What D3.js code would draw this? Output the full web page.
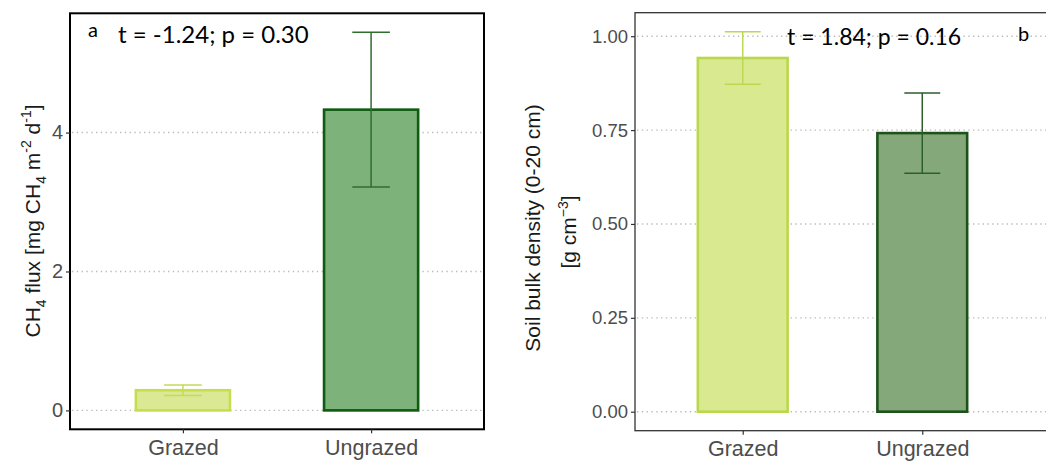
<!DOCTYPE html>
<html>
<head>
<meta charset="utf-8">
<script src="https://cdn.jsdelivr.net/npm/d3@7"></script>
<style>
  body { margin: 0; background: #fff; }
  svg { display: block; }
  .tick-label { font-family: "Liberation Sans", Arial, sans-serif; fill: #4d4d4d; }
  .axis-title { font-family: "Liberation Sans", Arial, sans-serif; fill: #1a1a1a; font-size: 21px; }
  .note { font-family: Lato, "Open Sans", sans-serif; fill: #000; }
</style>
</head>
<body>
<div id="chart"></div>
<script>
// data
var groups = ["Grazed", "Ungrazed"];
var ch4Mean = [0.29, 4.33];
var ch4Se = [0.075, 1.115];
var bdMean = [0.942, 0.742];
var bdSe = [0.07, 0.107];
var ch4Ticks = [0, 2, 4];
var bdTicks = [0, 0.25, 0.5, 0.75, 1.0];

var W = 1046, H = 463;

var svg = d3.select("#chart").append("svg")
    .attr("width", W)
    .attr("height", H);

// colours per panel
var panels = [
    {
        mean: ch4Mean, se: ch4Se, ticks: ch4Ticks, fmt: d3.format("d"),
        left: 70, right: 484, top: 13.3, bottom: 429.3, frameRight: 484,
        fill: ["#dbe995", "#7db27a"],
        stroke: ["#c6de4e", "#0f5c10"],
        err: ["#c4da5a", "#2f6e2f"],
        frameColor: "#000", frameWidth: 2, tickSize: 20
    },
    {
        mean: bdMean, se: bdSe, ticks: bdTicks, fmt: d3.format(".2f"),
        left: 635, right: 1030, top: 12.7, bottom: 430.7, frameRight: 1060,
        fill: ["#d8e98f", "#85a87b"],
        stroke: ["#bad84c", "#1c531a"],
        err: ["#bcd853", "#2c5e2a"],
        frameColor: "#333", frameWidth: 1.3, tickSize: 18.5
    }
];

panels.forEach(function(p) {
    var ymax = d3.max(p.mean.map(function(m, i) { return m + p.se[i]; }));
    var pad = 0.05 * ymax;

    p.y = d3.scaleLinear()
        .domain([-pad, ymax + pad])
        .range([p.bottom, p.top]);

    p.x = d3.scalePoint()
        .domain(groups)
        .range([p.left, p.right])
        .padding(0.6);

    var step = p.x.step();
    var g = svg.append("g");

    // dotted grid
    g.selectAll(".grid")
        .data(p.ticks)
        .enter().append("line")
        .attr("x1", p.left + 2)
        .attr("x2", p.frameRight)
        .attr("y1", function(d) { return p.y(d); })
        .attr("y2", function(d) { return p.y(d); })
        .attr("stroke", "#bdbdbd")
        .attr("stroke-width", 1.4)
        .attr("stroke-dasharray", "1.4,3.4");

    // bars
    g.selectAll(".bar")
        .data(groups)
        .enter().append("rect")
        .attr("x", function(d) { return p.x(d) - step * 0.25; })
        .attr("width", step * 0.5)
        .attr("y", function(d, i) { return p.y(p.mean[i]); })
        .attr("height", function(d, i) { return p.y(0) - p.y(p.mean[i]); })
        .attr("fill", function(d, i) { return p.fill[i]; })
        .attr("stroke", function(d, i) { return p.stroke[i]; })
        .attr("stroke-width", 2.6);

    // error bars
    groups.forEach(function(d, i) {
        var cx = p.x(d), hi = p.y(p.mean[i] + p.se[i]), lo = p.y(p.mean[i] - p.se[i]);
        var cw = step * 0.1;
        var e = g.append("g")
            .attr("stroke", p.err[i])
            .attr("stroke-width", 1.5);
        e.append("line").attr("x1", cx).attr("x2", cx).attr("y1", hi).attr("y2", lo);
        e.append("line").attr("x1", cx - cw).attr("x2", cx + cw).attr("y1", hi).attr("y2", hi);
        e.append("line").attr("x1", cx - cw).attr("x2", cx + cw).attr("y1", lo).attr("y2", lo);
    });

    // frame
    g.append("rect")
        .attr("x", p.left)
        .attr("y", p.top)
        .attr("width", p.frameRight - p.left)
        .attr("height", p.bottom - p.top)
        .attr("fill", "none")
        .attr("stroke", p.frameColor)
        .attr("stroke-width", p.frameWidth);

    // y axis
    var yAxis = g.append("g")
        .attr("transform", "translate(" + p.left + ",0)")
        .call(d3.axisLeft(p.y).tickValues(p.ticks).tickFormat(p.fmt).tickSize(4).tickPadding(3));
    yAxis.select(".domain").remove();
    yAxis.selectAll(".tick line").attr("stroke", "#333").attr("stroke-width", 1.2);
    yAxis.selectAll(".tick text")
        .attr("class", "tick-label")
        .attr("font-size", p.tickSize)
        .attr("fill", "#4d4d4d");

    // x axis
    var xAxis = g.append("g")
        .attr("transform", "translate(0," + p.bottom + ")")
        .call(d3.axisBottom(p.x).tickSize(4).tickPadding(6));
    xAxis.select(".domain").remove();
    xAxis.selectAll(".tick line").attr("stroke", "#333").attr("stroke-width", 1.2);
    xAxis.selectAll(".tick text")
        .attr("class", "tick-label")
        .attr("font-size", 21.5)
        .attr("fill", "#4d4d4d");
});

// y axis titles
var t1 = svg.append("text")
    .attr("class", "axis-title")
    .attr("transform", "translate(40,221) rotate(-90)")
    .attr("text-anchor", "middle");
t1.append("tspan").text("CH");
t1.append("tspan").attr("font-size", 14).attr("dy", 6).text("4");
t1.append("tspan").attr("dy", -6).text(" flux [mg CH");
t1.append("tspan").attr("font-size", 14).attr("dy", 6).text("4");
t1.append("tspan").attr("dy", -6).text(" m");
t1.append("tspan").attr("font-size", 14).attr("dy", -9).text("-2");
t1.append("tspan").attr("dy", 9).text(" d");
t1.append("tspan").attr("font-size", 14).attr("dy", -9).text("-1");
t1.append("tspan").attr("dy", 9).text("]");

svg.append("text")
    .attr("class", "axis-title")
    .attr("transform", "translate(540,228) rotate(-90)")
    .attr("text-anchor", "middle")
    .text("Soil bulk density (0-20 cm)");

var t2 = svg.append("text")
    .attr("class", "axis-title")
    .attr("transform", "translate(576,232) rotate(-90)")
    .attr("text-anchor", "middle");
t2.append("tspan").text("[g cm");
t2.append("tspan").attr("font-size", 14).attr("dy", -8).text("\u22123");
t2.append("tspan").attr("dy", 8).text("]");

// annotations
svg.append("text").attr("class", "note").attr("x", 88).attr("y", 37).attr("font-size", 20).text("a");
svg.append("text").attr("class", "note").attr("x", 118).attr("y", 43).attr("font-size", 24).text("t = -1.24; p = 0.30");
svg.append("text").attr("class", "note").attr("x", 787).attr("y", 45).attr("font-size", 23).text("t = 1.84; p = 0.16");
svg.append("text").attr("class", "note").attr("x", 1018).attr("y", 41).attr("font-size", 20).text("b");
</script>
</body>
</html>
